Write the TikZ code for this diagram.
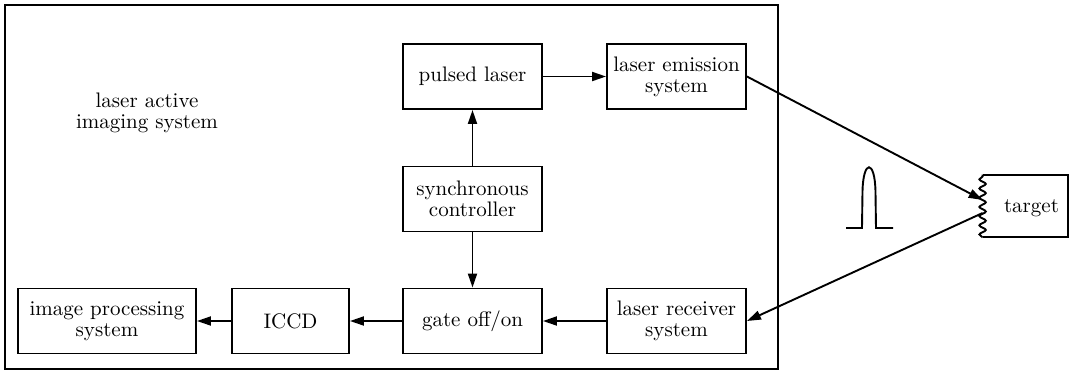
\documentclass[tikz,border=0pt]{standalone}
\usetikzlibrary{arrows.meta,decorations.pathmorphing,calc}
\begin{document}
\begin{tikzpicture}[x=0.5pt,y=-0.5pt,
  every node/.style={font=\fontsize{10.5}{10.5}\selectfont, align=center, inner sep=0pt},
  blk/.style={draw, line width=0.95pt, minimum width=69.5pt, minimum height=32.5pt},
  conn/.style={line width=0.95pt, -{Triangle[length=7pt,width=4.5pt]}}]
\useasboundingbox (0,0) rectangle (1073,371);
\draw[line width=0.95pt] (5,5) rectangle (778,369);
\node (label) at (147,113) {laser active\\imaging system};
\node[blk] (pulsed) at (472.5,76.5) {pulsed laser};
\node[blk] (emission) at (676.5,76.5) {laser emission\\system};
\node[blk] (sync) at (472.5,199) {synchronous\\controller};
\node[blk] (gate) at (472.5,321) {gate off/on};
\node[blk] (receiver) at (676.5,321) {laser receiver\\system};
\node[blk, minimum width=58.5pt] (iccd) at (290.5,321) {ICCD};
\node[blk, minimum width=89pt] (imgproc) at (107,321) {image processing\\system};
\node[minimum width=42.5pt, minimum height=31pt, text depth=0pt] (target) at (1025.5,206) {\hspace*{6pt}target};
\draw[line width=0.95pt] (target.north west) -- (target.north east) -- (target.south east) -- (target.south west);
\draw[line width=0.95pt, decorate, decoration={snake, segment length=4.6pt, amplitude=1.6pt}] (target.south west) -- (target.north west);
\coordinate (tin) at ($(target.west)+(0,-6)$);
\coordinate (tout) at ($(target.west)+(0,7)$);
\draw[conn] (pulsed) -- (emission);
\draw[conn] (sync) -- (pulsed);
\draw[conn] (sync) -- (gate);
\draw[conn] (receiver) -- (gate);
\draw[conn] (gate) -- (iccd);
\draw[conn] (iccd) -- (imgproc);
\draw[conn] (emission.east) -- (tin);
\draw[conn] (tout) -- (receiver.east);
\draw[line width=0.95pt] (846,228) -- (862,228) -- (862.5,192) .. controls (863,159) and (875,159) .. (875.5,192) -- (876,228) -- (893,228);
\end{tikzpicture}
\end{document}
